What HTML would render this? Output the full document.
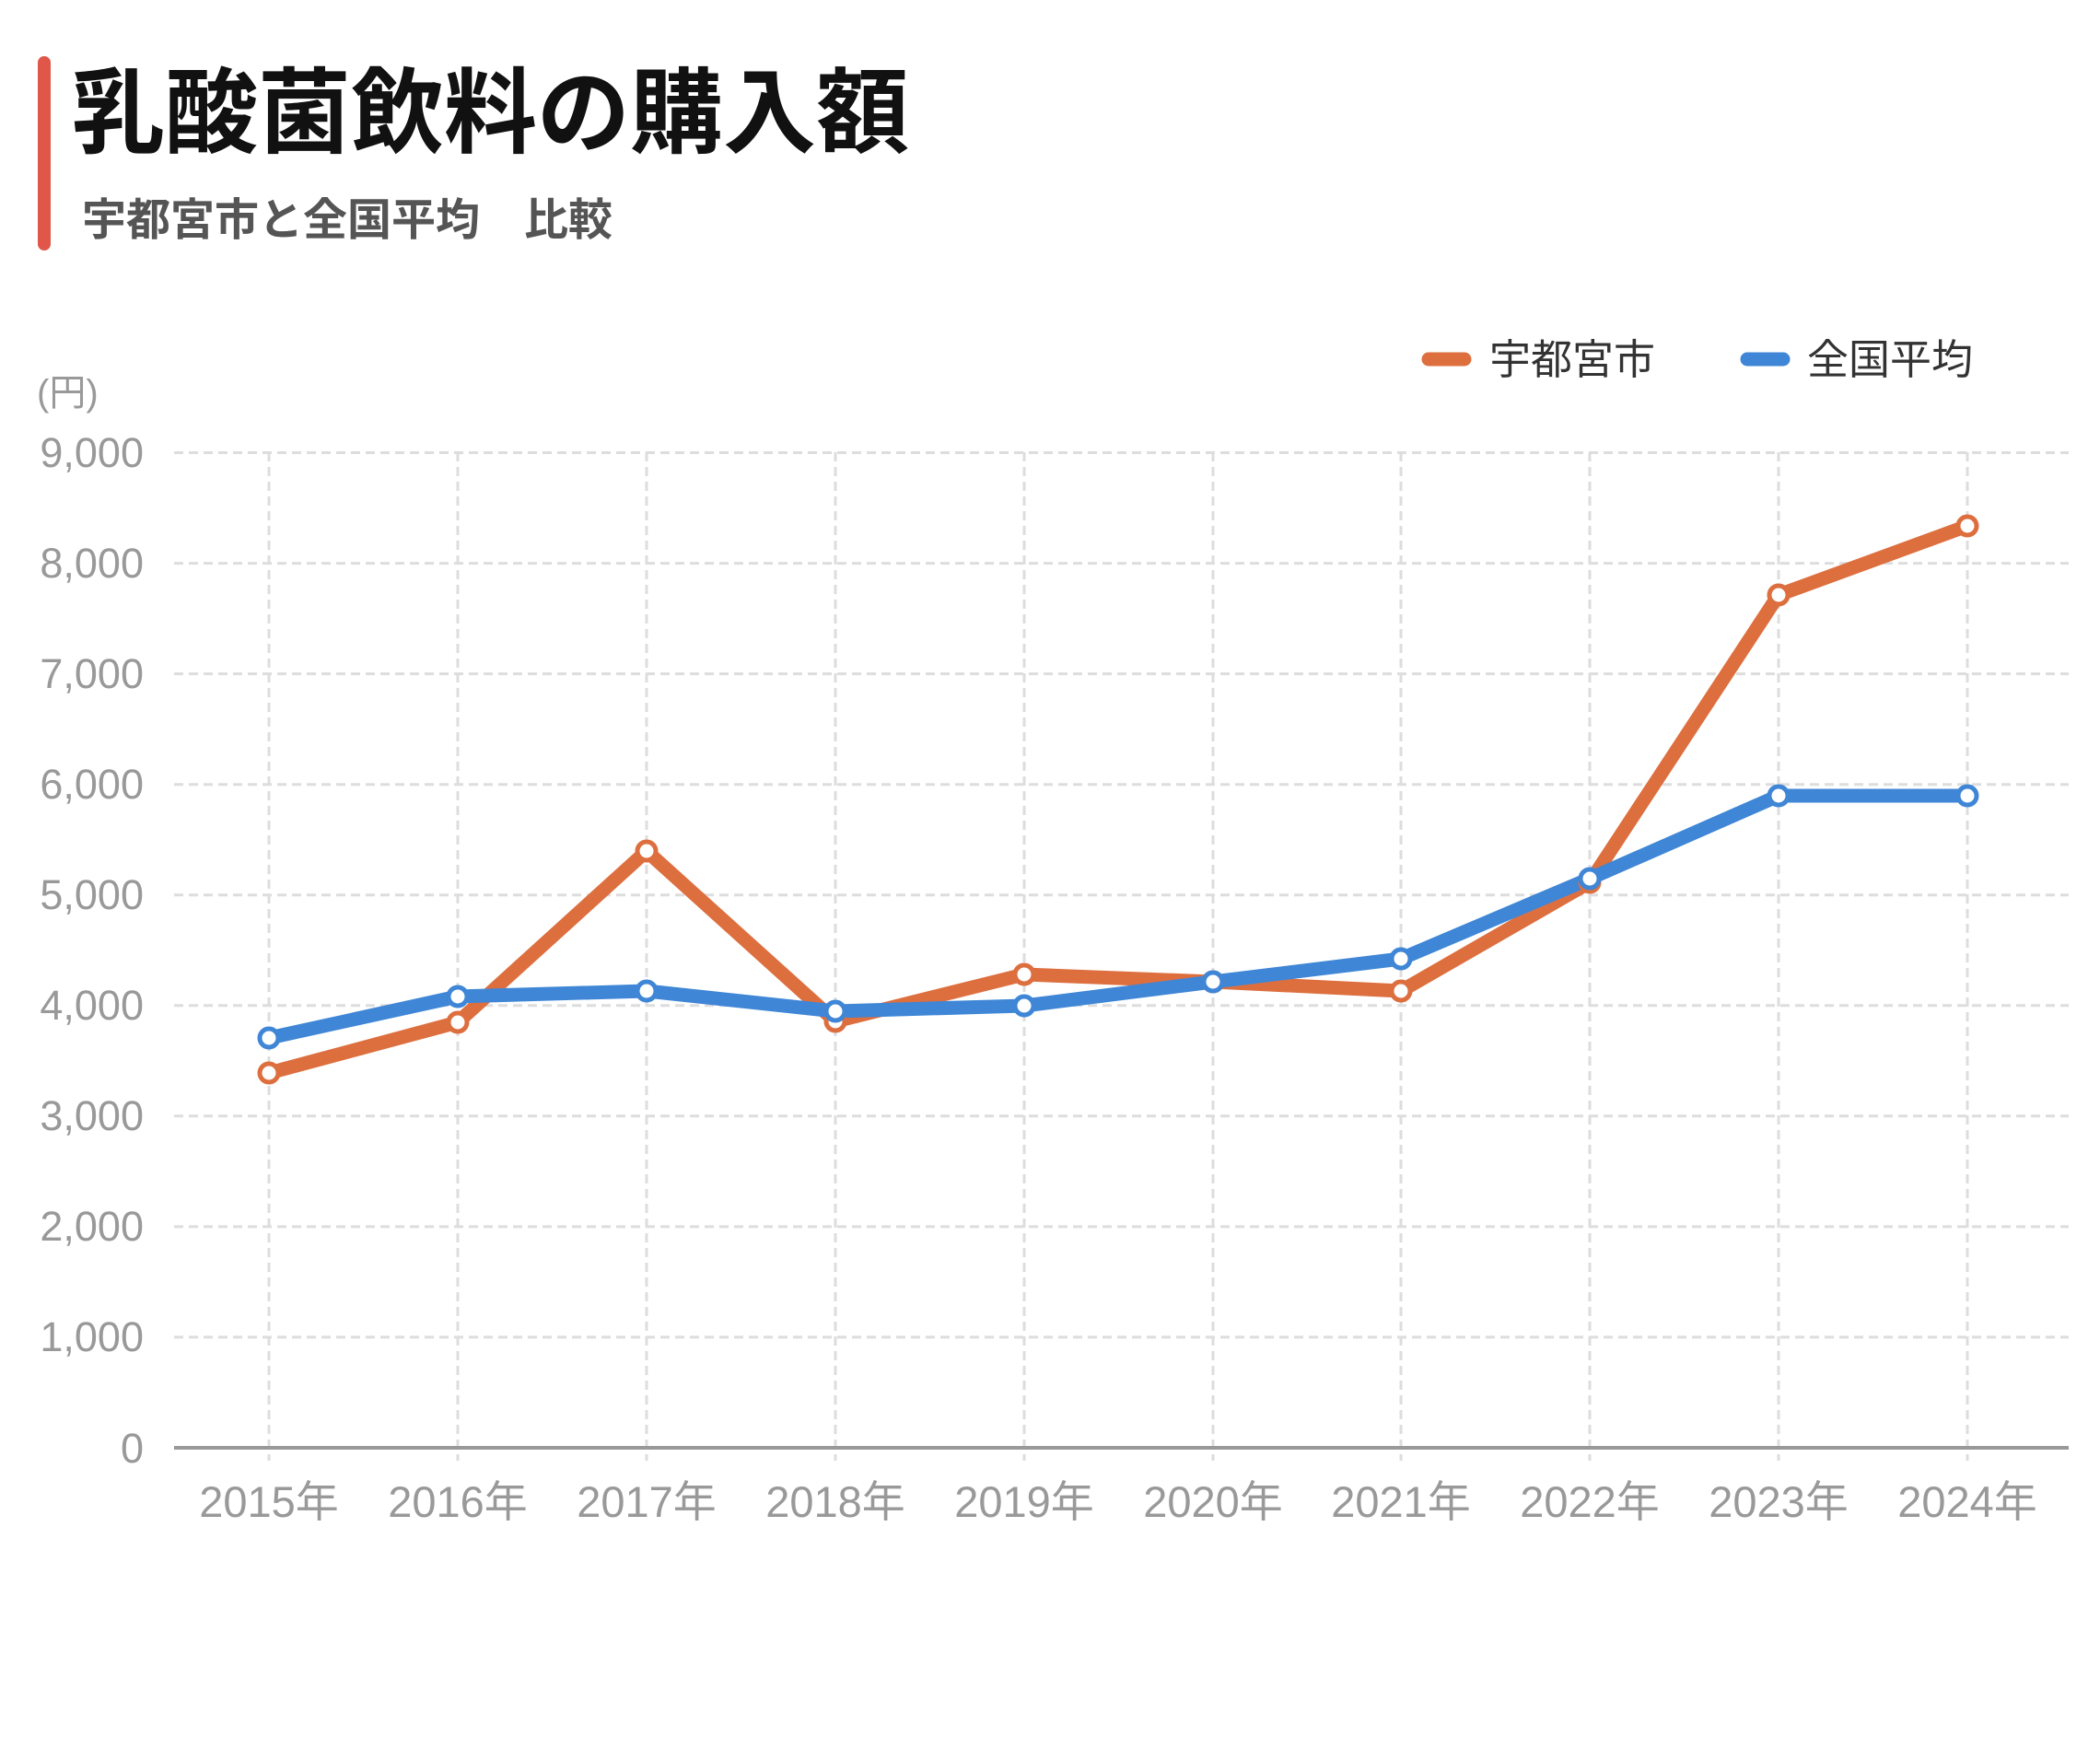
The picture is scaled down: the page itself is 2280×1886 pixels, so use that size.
<!DOCTYPE html>
<html><head><meta charset="utf-8"><style>
html,body{margin:0;padding:0;background:#fff;}
body{width:2280px;height:1886px;position:relative;overflow:hidden;font-family:"Liberation Sans","Noto Sans CJK JP",sans-serif;}
</style></head><body>
<svg width="2280" height="1886" xmlns="http://www.w3.org/2000/svg" style="position:absolute;left:0;top:0;font-family:'Liberation Sans','Noto Sans CJK JP',sans-serif">
<rect x="41" y="61" width="14" height="211" rx="7" fill="#E0574A"/>
<text x="78" y="158" font-size="101" font-weight="bold" fill="#111">乳酸菌飲料の購入額</text>
<text x="89" y="255" font-size="48" font-weight="bold" fill="#555">宇都宮市と全国平均　比較</text>
<text x="40" y="440" font-size="40" fill="#999">(円)</text>
<g stroke="#ddd" stroke-width="3" stroke-dasharray="10,6">
<line x1="189" x2="2246" y1="491.5" y2="491.5"/><line x1="189" x2="2246" y1="611.6" y2="611.6"/><line x1="189" x2="2246" y1="731.6" y2="731.6"/><line x1="189" x2="2246" y1="851.7" y2="851.7"/><line x1="189" x2="2246" y1="971.7" y2="971.7"/><line x1="189" x2="2246" y1="1091.8" y2="1091.8"/><line x1="189" x2="2246" y1="1211.8" y2="1211.8"/><line x1="189" x2="2246" y1="1331.9" y2="1331.9"/><line x1="189" x2="2246" y1="1451.9" y2="1451.9"/>
<line x1="292" x2="292" y1="491" y2="1586"/><line x1="497" x2="497" y1="491" y2="1586"/><line x1="702" x2="702" y1="491" y2="1586"/><line x1="907" x2="907" y1="491" y2="1586"/><line x1="1112" x2="1112" y1="491" y2="1586"/><line x1="1317" x2="1317" y1="491" y2="1586"/><line x1="1521" x2="1521" y1="491" y2="1586"/><line x1="1726" x2="1726" y1="491" y2="1586"/><line x1="1931" x2="1931" y1="491" y2="1586"/><line x1="2136" x2="2136" y1="491" y2="1586"/>
</g>
<line x1="189" x2="2246" y1="1572" y2="1572" stroke="#999" stroke-width="4"/>
<g font-size="45" fill="#999" text-anchor="end">
<text x="156" y="507">9,000</text><text x="156" y="627">8,000</text><text x="156" y="747">7,000</text><text x="156" y="867">6,000</text><text x="156" y="987">5,000</text><text x="156" y="1107">4,000</text><text x="156" y="1227">3,000</text><text x="156" y="1347">2,000</text><text x="156" y="1467">1,000</text><text x="156" y="1588">0</text>
</g>
<g font-size="47" fill="#999" text-anchor="middle">
<text x="292" y="1647">2015年</text><text x="497" y="1647">2016年</text><text x="702" y="1647">2017年</text><text x="907" y="1647">2018年</text><text x="1112" y="1647">2019年</text><text x="1317" y="1647">2020年</text><text x="1521" y="1647">2021年</text><text x="1726" y="1647">2022年</text><text x="1931" y="1647">2023年</text><text x="2136" y="1647">2024年</text>
</g>
<line x1="1551" x2="1590" y1="390" y2="390" stroke="#DD6F3F" stroke-width="15" stroke-linecap="round"/>
<text x="1617" y="406" font-size="45" fill="#333">宇都宮市</text>
<line x1="1897" x2="1936" y1="390" y2="390" stroke="#3F86D6" stroke-width="15" stroke-linecap="round"/>
<text x="1962" y="406" font-size="45" fill="#333">全国平均</text>
<polyline fill="none" stroke="#DD6F3F" stroke-width="15" stroke-linejoin="round" points="292,1165 497,1110 702,924 907,1109 1112,1058 1317,1066 1521,1076 1726,958 1931,646 2136,571"/>
<polyline fill="none" stroke="#3F86D6" stroke-width="15" stroke-linejoin="round" points="292,1127 497,1082 702,1076 907,1098 1112,1092 1317,1066 1521,1041 1726,954 1931,864 2136,864"/>
<g fill="#fff" stroke="#DD6F3F" stroke-width="5">
<circle cx="292" cy="1165" r="10"/><circle cx="497" cy="1110" r="10"/><circle cx="702" cy="924" r="10"/><circle cx="907" cy="1109" r="10"/><circle cx="1112" cy="1058" r="10"/><circle cx="1317" cy="1066" r="10"/><circle cx="1521" cy="1076" r="10"/><circle cx="1726" cy="958" r="10"/><circle cx="1931" cy="646" r="10"/><circle cx="2136" cy="571" r="10"/>
</g>
<g fill="#fff" stroke="#3F86D6" stroke-width="5">
<circle cx="292" cy="1127" r="10"/><circle cx="497" cy="1082" r="10"/><circle cx="702" cy="1076" r="10"/><circle cx="907" cy="1098" r="10"/><circle cx="1112" cy="1092" r="10"/><circle cx="1317" cy="1066" r="10"/><circle cx="1521" cy="1041" r="10"/><circle cx="1726" cy="954" r="10"/><circle cx="1931" cy="864" r="10"/><circle cx="2136" cy="864" r="10"/>
</g>
</svg>
</body></html>
